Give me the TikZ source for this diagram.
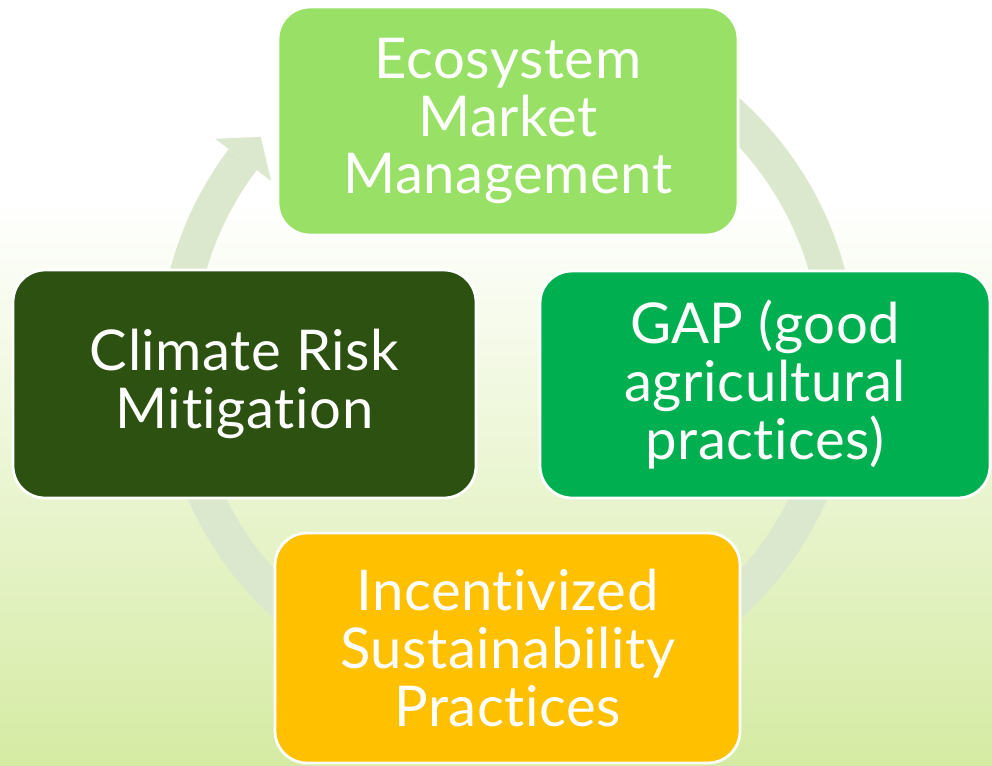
\documentclass[tikz,border=0pt]{standalone}
\usepackage{fontspec}
\setmainfont{Lato}[Ligatures=NoCommon,LetterSpace=1]
\usepackage{xcolor}
\usetikzlibrary{positioning,
                calc,
                backgrounds}

\begin{document}
\begin{tikzpicture}[thick,
    block/.style={draw=white,line width=2pt,rounded corners=0.8cm,
                  text=white,align=center,inner sep=0pt,
                  font=\fontsize{40}{41}\selectfont},
    ring/.style={draw=ringgreen,line width=0.875cm}]
\definecolor{ringgreen}{RGB}{220,232,206}
\definecolor{bgbottom}{RGB}{213,235,163}
\definecolor{ecogreen}{RGB}{152,224,102}
\definecolor{gapgreen}{RGB}{0,176,80}
\definecolor{riskgreen}{RGB}{45,81,17}
\definecolor{incentgold}{RGB}{255,192,0}
\useasboundingbox (0,0) rectangle (24.8,-19.125);
% page background: white on top, fading to pale green
\fill [white] (0,0) rectangle (24.8,-5);
\shade [top color=white,bottom color=bgbottom] (0,-5) rectangle (24.8,-19.125);
% circular arrow behind the blocks
\coordinate (hub) at (12.6875,-8.975);
\def\rmid{8.2875}
\draw [ring] ($ (hub) + (95:\rmid) $) arc [start angle=95,end angle=-217,radius=\rmid];
\fill [ringgreen] ($ (hub) + (143:9.15) $) -- ($ (hub) + (138:8.3) $)
  -- ($ (hub) + (143:7.4) $) -- cycle;
% the four blocks
\node (eco) at (12.7,-3.025) [block,fill=ecogreen,minimum width=11.5cm,minimum height=5.7cm]
  {Ecosystem\\Market\\Management};
\node (risk) at (6.1125,-9.6) [block,fill=riskgreen,minimum width=11.575cm,minimum height=5.7cm]
  {Climate Risk\\Mitigation};
\node (gap) at (19.125,-9.6125) [block,fill=gapgreen,minimum width=11.25cm,minimum height=5.675cm]
  {GAP (good\\agricultural\\practices)};
\node (incent) at (12.6875,-16.2) [block,fill=incentgold,minimum width=11.625cm,minimum height=5.75cm]
  {Incentivized\\Sustainability\\Practices};
\end{tikzpicture}
\end{document}
